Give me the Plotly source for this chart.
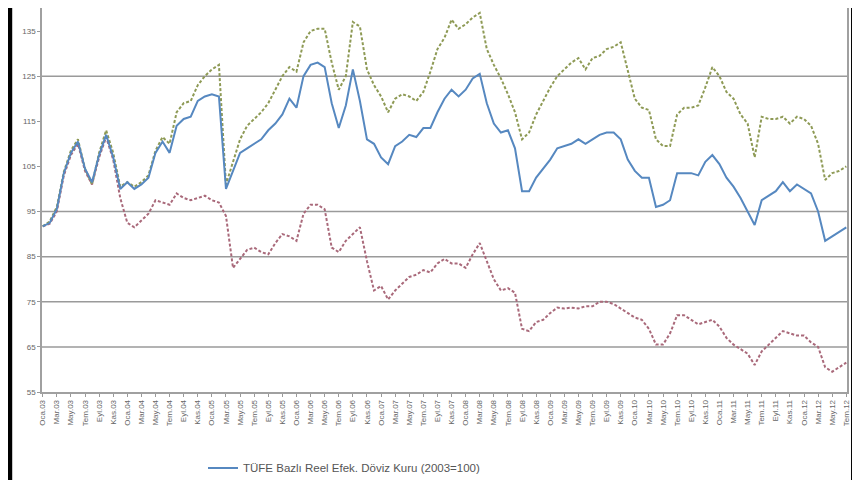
import plotly.graph_objects as go

# ---------------- data ----------------
months_tr = ["Oca", "Şub", "Mar", "Nis", "May", "Haz", "Tem", "Ağu", "Eyl", "Eki", "Kas", "Ara"]
start_year = 2003
n_points = 115
categories = [f"{months_tr[i % 12]}.{(start_year + i // 12) % 100:02d}" for i in range(n_points)]

tufe_reer = [
    91.7, 92.5, 95.5, 103.5, 108, 110.5, 104.5, 101.5, 107.5, 112,
    107, 100, 101.5, 100, 101, 102.5, 108, 110.5, 108, 114,
    115.5, 116, 119.5, 120.5, 121, 120.5, 100, 104, 108, 109,
    110, 111, 113, 114.5, 116.5, 120, 118, 125, 127.5, 128,
    127, 119, 113.5, 118.5, 126.5, 119.5, 111, 110, 107, 105.5,
    109.5, 110.5, 112, 111.5, 113.5, 113.5, 117, 120, 122, 120.5,
    122, 124.5, 125.5, 119, 114.5, 112.5, 113, 109, 99.5, 99.5,
    102.5, 104.5, 106.5, 109, 109.5, 110, 111, 110, 111, 112,
    112.5, 112.5, 111, 106.5, 104, 102.5, 102.5, 96, 96.5, 97.5,
    103.5, 103.5, 103.5, 103, 106, 107.5, 105.5, 102.5, 100.5, 98,
    95, 92, 97.5, 98.5, 99.5, 101.5, 99.5, 101, 100, 99,
    95, 88.5, 89.5, 90.5, 91.5,
]

ulc_reer = [
    91.7, 92.8, 96, 103.8, 108.5, 111, 104.5, 101, 108, 113,
    108, 100.5, 101.5, 100.5, 101.5, 103, 108.5, 111.5, 110, 117,
    119, 119.5, 123, 125, 126.5, 127.5, 101, 106, 111, 114,
    115.5, 117, 119, 122, 125, 127, 126, 132.5, 135, 135.5,
    135.5, 128, 122, 125, 137, 136, 126.5, 123, 120.5, 117,
    120, 121, 120.5, 119.5, 121.5, 126, 131, 133.5, 137.5, 135.5,
    136.5, 138, 139, 131, 127.5, 124.5, 121, 117, 111, 112.5,
    116.5, 119.5, 122.5, 125, 126.5, 128, 129, 126.5, 129, 129.5,
    131, 131.5, 132.5, 126, 120, 118, 117.5, 111, 109.5, 109.5,
    116.5, 118, 118, 118.5, 122.5, 127, 125, 121.5, 120, 116.5,
    114.5, 107, 116, 115.5, 115.5, 116, 114.5, 116, 115.5, 114,
    110, 102, 103.5, 104, 105,
]

ufe_reer = [
    91.7, 92.3, 95, 103, 107.5, 110, 104, 101, 107, 111.5,
    106.5, 98, 92.5, 91.5, 93, 94.5, 97.5, 97, 96.5, 99,
    98, 97.5, 98, 98.5, 97.5, 97, 94, 82.5, 84.5, 86.5,
    87, 86, 85.5, 88, 90, 89.5, 88.5, 94.5, 96.5, 96.5,
    95.5, 87, 86, 88.5, 90, 91.5, 84, 77.5, 78.5, 75.5,
    77.5, 79, 80.5, 81, 82, 81.5, 83.5, 84.5, 83.5, 83.5,
    82.5, 85.5, 88, 84, 80, 77.5, 78, 77, 69, 68.5,
    70.5, 71, 72.5, 73.7, 73.5, 73.7, 73.5, 74, 74, 75,
    75, 74.5, 73.5, 72.5, 71.5, 71, 69, 65.5, 65.5, 68,
    72, 72, 71, 70, 70.5, 71, 69.5, 67, 65.5, 64.5,
    63.5, 61, 64, 65.5, 67, 68.5, 68, 67.5, 67.5, 66,
    65, 60.5, 59.5, 60.5, 61.5,
]

series_names = [
    "TÜFE Bazlı Reel Efek. Döviz Kuru (2003=100)",
    "ÜFE Bazlı Reel Efek. Döviz Kuru (2003=100)",
    "Birim İşgücü Maliyeti Bazlı Reel Efek. Döviz Kuru (2003=100)",
]

y_ticks = [55, 65, 75, 85, 95, 105, 115, 125, 135]
grid_values = [65, 75, 85, 95, 125]
x_tick_labels = categories[::2]

# ---------------- figure ----------------
fig = go.Figure()
fig.add_trace(go.Scatter(
    x=categories, y=ufe_reer, mode="lines", name=series_names[1],
    line=dict(color="#a9697a", width=2, dash="3px,2px"), legendrank=2,
))
fig.add_trace(go.Scatter(
    x=categories, y=ulc_reer, mode="lines", name=series_names[2],
    line=dict(color="#8e9a55", width=2, dash="3px,2px"), legendrank=3,
))
fig.add_trace(go.Scatter(
    x=categories, y=tufe_reer, mode="lines", name=series_names[0],
    line=dict(color="#5688c0", width=2), legendrank=1,
))

shapes = []
for g in grid_values:
    shapes.append(dict(type="line", xref="paper", yref="y", x0=0, x1=1, y0=g, y1=g,
                       line=dict(color="#9a9a9a", width=1.5), layer="below"))
# black frame bars at the page edges
shapes.append(dict(type="rect", xref="paper", yref="paper", x0=-0.0425, x1=-0.037,
                   y0=-0.3, y1=1.05, fillcolor="black", line=dict(width=0)))
shapes.append(dict(type="rect", xref="paper", yref="paper", x0=1.005, x1=1.0135,
                   y0=-0.3, y1=1.05, fillcolor="black", line=dict(width=0)))

fig.update_layout(
    width=852, height=472,
    margin=dict(l=34, r=13, t=0, b=88, autoexpand=False),
    paper_bgcolor="white", plot_bgcolor="white",
    font=dict(family="Liberation Sans, Arial, sans-serif", color="#555555", size=8),
    shapes=shapes,
    showlegend=True,
    legend=dict(
        orientation="h", x=0.2, xanchor="left", y=-0.16, yanchor="top",
        entrywidth=600, entrywidthmode="pixels",
        font=dict(size=11.5, color="#555555"), bgcolor="rgba(0,0,0,0)",
        tracegroupgap=0,
    ),
)
fig.update_xaxes(
    type="category", range=[-0.1, n_points - 0.9],
    tickmode="array", tickvals=x_tick_labels, ticktext=x_tick_labels,
    tickangle=-90, tickfont=dict(size=8, color="#666666"),
    ticks="outside", ticklen=3, tickcolor="#999999",
    showline=True, linecolor="#a0a0a0", linewidth=1.5, mirror=True,
    showgrid=False, zeroline=False, automargin=False,
)
fig.update_yaxes(
    range=[55, 140.1], tickmode="array", tickvals=y_ticks,
    tickfont=dict(size=8, color="#666666"),
    ticks="outside", ticklen=3, tickcolor="#999999",
    showline=True, linecolor="#a0a0a0", linewidth=1.5, mirror=True,
    showgrid=False, zeroline=False, automargin=False,
)

fig.write_html("out.html")
